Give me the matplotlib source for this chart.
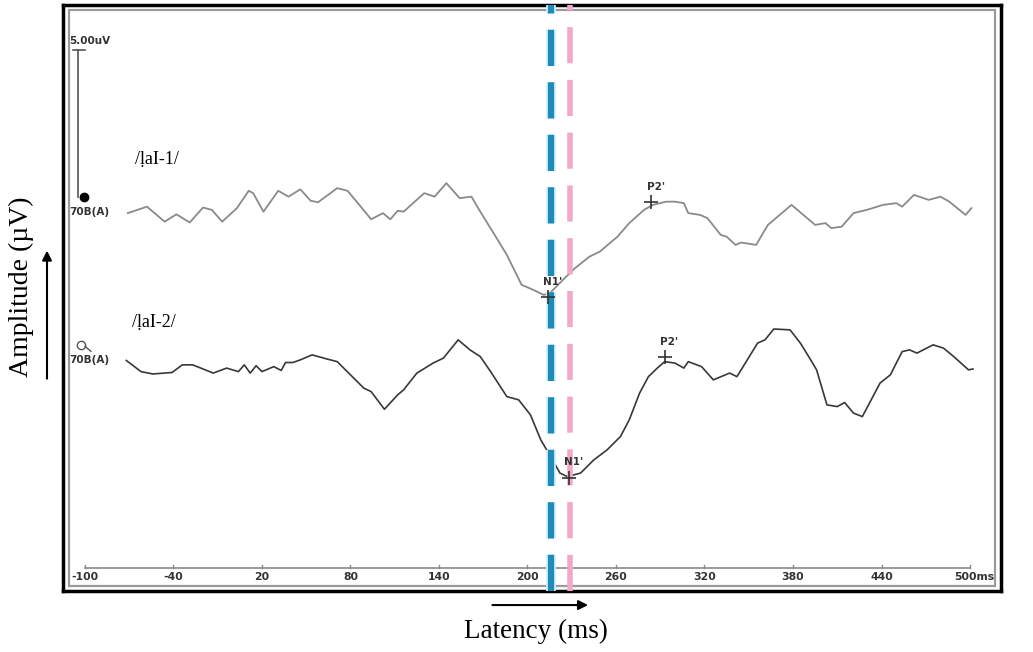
import numpy as np
import matplotlib
matplotlib.use("Agg")
import matplotlib.pyplot as plt
from matplotlib.patches import Rectangle
import matplotlib.patheffects as pe

SERIF = ["Liberation Serif", "DejaVu Serif"]

# ---------------------------------------------------------------- data
# latency in ms, amplitude in uV relative to each trace's own baseline
lat_1 = [-71, -58, -46, -38, -29, -20, -14, -7, 3, 11,
         14, 21, 31, 38, 46, 53, 58, 71, 78, 85,
         94, 102, 107, 112, 116, 130, 137, 145, 154, 162,
         168, 177, 186, 196, 204, 211, 215, 224, 232, 242,
         249, 261, 269, 279, 285, 294, 300, 306, 309, 317,
         322, 331, 335, 341, 345, 355, 363, 371, 379, 387,
         395, 402, 406, 413, 421, 430, 441, 450, 454, 462,
         472, 480, 486, 497, 501]
amp_1 = [-0.55, -0.33, -0.84, -0.59, -0.87, -0.36, -0.44, -0.84, -0.38, 0.21,
         0.13, -0.50, 0.21, 0.01, 0.26, -0.13, -0.18, 0.30, 0.21, -0.21,
         -0.76, -0.55, -0.76, -0.47, -0.50, 0.13, 0.01, 0.47, -0.04, 0.01,
         -0.50, -1.23, -1.97, -2.99, -3.16, -3.33, -3.28, -2.82, -2.43, -2.03,
         -1.86, -1.35, -0.89, -0.44, -0.27, -0.16, -0.16, -0.21, -0.55, -0.61,
         -0.72, -1.29, -1.35, -1.63, -1.55, -1.63, -0.95, -0.61, -0.27, -0.61,
         -0.95, -0.89, -1.06, -1.01, -0.55, -0.44, -0.27, -0.21, -0.33, 0.07,
         -0.10, 0.01, -0.16, -0.61, -0.38]

lat_2 = [-72, -62, -54, -41, -34, -27, -13, -4, 4, 8,
         12, 16, 20, 28, 33, 36, 41, 46, 54, 64,
         71, 80, 89, 94, 103, 112, 116, 125, 136, 143,
         153, 161, 168, 175, 186, 194, 202, 209, 215, 222,
         227, 236, 245, 254, 263, 269, 276, 282, 288, 293,
         300, 306, 309, 318, 326, 337, 342, 356, 361, 367,
         378, 385, 392, 396, 403, 410, 415, 421, 427, 439,
         446, 454, 459, 464, 475, 482, 489, 499, 502]
amp_2 = [-0.43, -0.81, -0.89, -0.84, -0.58, -0.58, -0.86, -0.69, -0.81, -0.58,
         -0.86, -0.61, -0.81, -0.64, -0.77, -0.50, -0.50, -0.41, -0.24, -0.38,
         -0.47, -0.92, -1.37, -1.49, -2.09, -1.60, -1.43, -0.86, -0.52, -0.35,
         0.27, -0.07, -0.30, -0.81, -1.66, -1.77, -2.28, -3.13, -3.64, -4.26,
         -4.38, -4.26, -3.81, -3.47, -3.02, -2.45, -1.54, -0.98, -0.69, -0.47,
         -0.52, -0.69, -0.47, -0.64, -1.09, -0.86, -0.98, 0.16, 0.27, 0.64,
         0.61, 0.16, -0.41, -0.75, -1.94, -2.00, -1.86, -2.22, -2.34, -1.20,
         -0.92, -0.13, -0.07, -0.18, 0.10, -0.01, -0.30, -0.75, -0.72]

# peak marks: (latency ms, amplitude uV, label)
peaks_1 = [(214, -3.40, "N1'"), (284, -0.17, "P2'")]
peaks_2 = [(228, -4.42, "N1'"), (293, -0.31, "P2'")]

tick_ms = [-100, -40, 20, 80, 140, 200, 260, 320, 380, 440, 500]
tick_labels = ["-100", "-40", "20", "80", "140", "200", "260", "320", "380", "440", "500ms"]

blue_line_ms = 216
pink_line_ms = 229
scale_uv = 5.0

OFF_1 = 13.40   # baseline of /laI-1/ trace on the panel
OFF_2 = 8.27    # baseline of /laI-2/ trace

C_TOP = "#878c87"
C_BOT = "#383838"
C_BLUE = "#2389b5"
C_PINK = "#f1a9c9"
C_TXT = "#333333"

# ---------------------------------------------------------------- canvas
fig = plt.figure(figsize=(10.33, 6.52), dpi=100)
ax = fig.add_axes([0.061, 0.0936, 0.908, 0.8988])
ax.set_xlim(-114.9, 521.0)
ax.set_ylim(0, 19.93)
ax.set_xticks([])
ax.set_yticks([])
for s in ax.spines.values():
    s.set_linewidth(2.5)
    s.set_color("black")
ax.add_patch(Rectangle((0.006, 0.009), 0.988, 0.982, transform=ax.transAxes,
                       fill=False, edgecolor="#9a9a9a", linewidth=1.6, zorder=1))

# latency axis inside the panel
AX_Y = 0.78
ax.plot([tick_ms[0], tick_ms[-1]], [AX_Y, AX_Y], color="#8a8a8a", lw=1.2, zorder=2)
for t, lab in zip(tick_ms, tick_labels):
    ax.plot([t, t], [AX_Y, AX_Y + 0.12], color="#8a8a8a", lw=1, zorder=2)
    ha = "center"
    xx = t
    if lab.endswith("ms"):
        ha = "left"
        xx = t - 11
    ax.text(xx, AX_Y - 0.12, lab, ha=ha, va="top", fontsize=7.8,
            fontweight="bold", color=C_TXT, zorder=3)

# traces
ax.plot(lat_1, np.array(amp_1) + OFF_1, color=C_TOP, lw=1.3, zorder=3)
ax.plot(lat_2, np.array(amp_2) + OFF_2, color=C_BOT, lw=1.2, zorder=3)

# scale bar + baseline markers
ax.plot([-104.7, -104.7], [OFF_1, OFF_1 + scale_uv], color="#555", lw=1.2, zorder=3)
ax.plot([-108, -100], [OFF_1 + scale_uv] * 2, color="#555", lw=1.2, zorder=3)
ax.text(-110.5, OFF_1 + scale_uv + 0.15, "5.00uV", fontsize=7.5, fontweight="bold",
        color=C_TXT, va="bottom", ha="left")
ax.plot([-100.5], [OFF_1], marker="o", ms=6, color="black", zorder=4)
ax.text(-110.5, OFF_1 - 0.52, "70B(A)", fontsize=7.5, fontweight="bold",
        color=C_TXT, va="center", ha="left")
ax.plot([-103], [OFF_2 + 0.1], marker="o", ms=6, mfc="white", mec="#555", mew=1, zorder=4)
ax.plot([-100, -96], [OFF_2 + 0.05, OFF_2 - 0.12], color="#555", lw=1, zorder=4)
ax.text(-110.5, OFF_2 - 0.4, "70B(A)", fontsize=7.5, fontweight="bold",
        color=C_TXT, va="center", ha="left")

# peak marks
for peaks, off in ((peaks_1, OFF_1), (peaks_2, OFF_2)):
    for ms, uv, lab in peaks:
        ax.plot([ms], [uv + off], marker="+", ms=10, mew=1.2, color="#333", zorder=6)
        ax.text(ms + 3, uv + off + 0.35, lab, fontsize=7.5, fontweight="bold",
                color=C_TXT, ha="center", va="bottom", zorder=6)

# dashed latency guides
ax.axvline(blue_line_ms, color=C_BLUE, lw=4.5, linestyle=(0, (5.8, 2.6)), zorder=5,
           path_effects=[pe.Stroke(linewidth=7, foreground="#c9f3ff"), pe.Normal()])
ax.axvline(pink_line_ms, color=C_PINK, lw=4.0, linestyle=(0, (6.5, 3.0)), zorder=5)

# stimulus labels
ax.text(-66, 14.69, "/ḷaI-1/", fontsize=13, family=SERIF, va="center", ha="left")
ax.text(-68, 9.12, "/ḷaI-2/", fontsize=13, family=SERIF, va="center", ha="left")

# ---------------------------------------------------------------- outer axis titles
fig.text(0.021, 0.56, "Amplitude (µV)", rotation=90, fontsize=20, family=SERIF,
         ha="center", va="center")
fig.text(0.519, 0.031, "Latency (ms)", fontsize=19.5, family=SERIF,
         ha="center", va="center")
fig.patches.append(matplotlib.patches.FancyArrowPatch(
    (0.0455, 0.415), (0.0455, 0.62), transform=fig.transFigure,
    arrowstyle="-|>", mutation_scale=14, color="black", lw=1.5))
fig.patches.append(matplotlib.patches.FancyArrowPatch(
    (0.474, 0.072), (0.572, 0.072), transform=fig.transFigure,
    arrowstyle="-|>", mutation_scale=14, color="black", lw=1.5))

fig.savefig("out.png", dpi=100)
